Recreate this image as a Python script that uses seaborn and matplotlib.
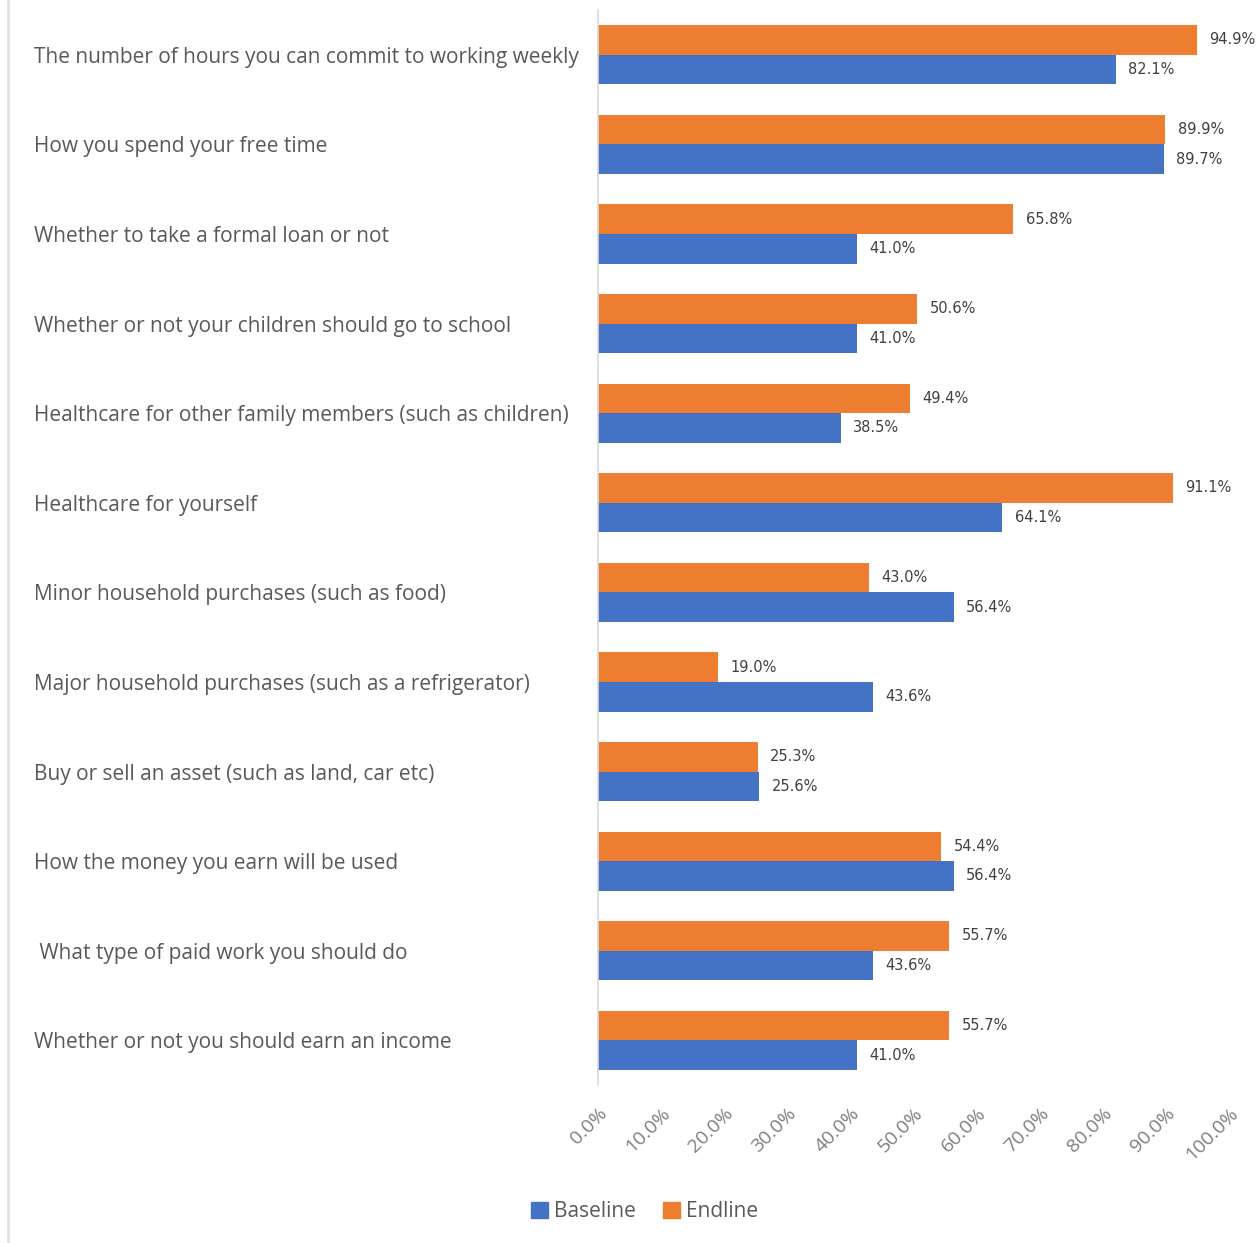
import pandas as pd
import seaborn as sns
import matplotlib.pyplot as plt
from matplotlib.lines import Line2D
from matplotlib.patches import Patch

categories = [
    "The number of hours you can commit to working weekly",
    "How you spend your free time",
    "Whether to take a formal loan or not",
    "Whether or not your children should go to school",
    "Healthcare for other family members (such as children)",
    "Healthcare for yourself",
    "Minor household purchases (such as food)",
    "Major household purchases (such as a refrigerator)",
    "Buy or sell an asset (such as land, car etc)",
    "How the money you earn will be used",
    " What type of paid work you should do",
    "Whether or not you should earn an income",
]
endline = [94.9, 89.9, 65.8, 50.6, 49.4, 91.1, 43.0, 19.0, 25.3, 54.4, 55.7, 55.7]
baseline = [82.1, 89.7, 41.0, 41.0, 38.5, 64.1, 56.4, 43.6, 25.6, 56.4, 43.6, 41.0]
xticks = [0, 10, 20, 30, 40, 50, 60, 70, 80, 90, 100]

BLUE = "#4472C4"
ORANGE = "#ED7D31"

df = pd.concat([
    pd.DataFrame({"item": categories, "value": endline, "group": "Endline"}),
    pd.DataFrame({"item": categories, "value": baseline, "group": "Baseline"}),
])

sns.set_style("white")
plt.rcParams["font.family"] = ["Open Sans", "DejaVu Sans"]

fig = plt.figure(figsize=(12.59, 12.43), dpi=100)
ax = fig.add_axes([0.475, 0.127, 0.501, 0.865])

sns.barplot(data=df, x="value", y="item", hue="group", order=categories,
            hue_order=["Endline", "Baseline"],
            palette={"Endline": ORANGE, "Baseline": BLUE},
            width=0.66, saturation=1, orient="h", legend=False,
            linewidth=0, ax=ax)

for cont in ax.containers:
    ax.bar_label(cont, fmt="%.1f%%", padding=9, fontsize=10.5,
                 color="#404040", family="DejaVu Sans")

ax.set_xlim(0, 100)
ax.set_ylim(len(categories) - 0.5, -0.5)
ax.set_xticks(xticks)
ax.set_xticklabels([f"{t:.1f}%" for t in xticks], rotation=45, ha="right",
                   rotation_mode="anchor", fontsize=14, color="#7f7f7f")
ax.set_xlabel("")
ax.set_ylabel("")
ax.tick_params(axis="y", length=0, pad=406)
ax.tick_params(axis="x", length=0, pad=14)
for lab in ax.get_yticklabels():
    lab.set_horizontalalignment("left")
    lab.set_fontsize(15)
    lab.set_color("#595959")

for s in ["top", "right", "bottom"]:
    ax.spines[s].set_visible(False)
ax.spines["left"].set_color("#d9d9d9")
ax.spines["left"].set_linewidth(1.2)

fig.add_artist(Line2D([0.0065, 0.0065], [0, 1], color="#e3e3e3", lw=2,
                      transform=fig.transFigure))

handles = [Patch(color=BLUE, label="Baseline"), Patch(color=ORANGE, label="Endline")]
fig.legend(handles=handles, loc="center", bbox_to_anchor=(0.512, 0.025), ncol=2,
           frameon=False, fontsize=15, labelcolor="#595959",
           handlelength=0.8, handleheight=0.8, handletextpad=0.3, columnspacing=1.3)

fig.savefig("out.png", dpi=100)
